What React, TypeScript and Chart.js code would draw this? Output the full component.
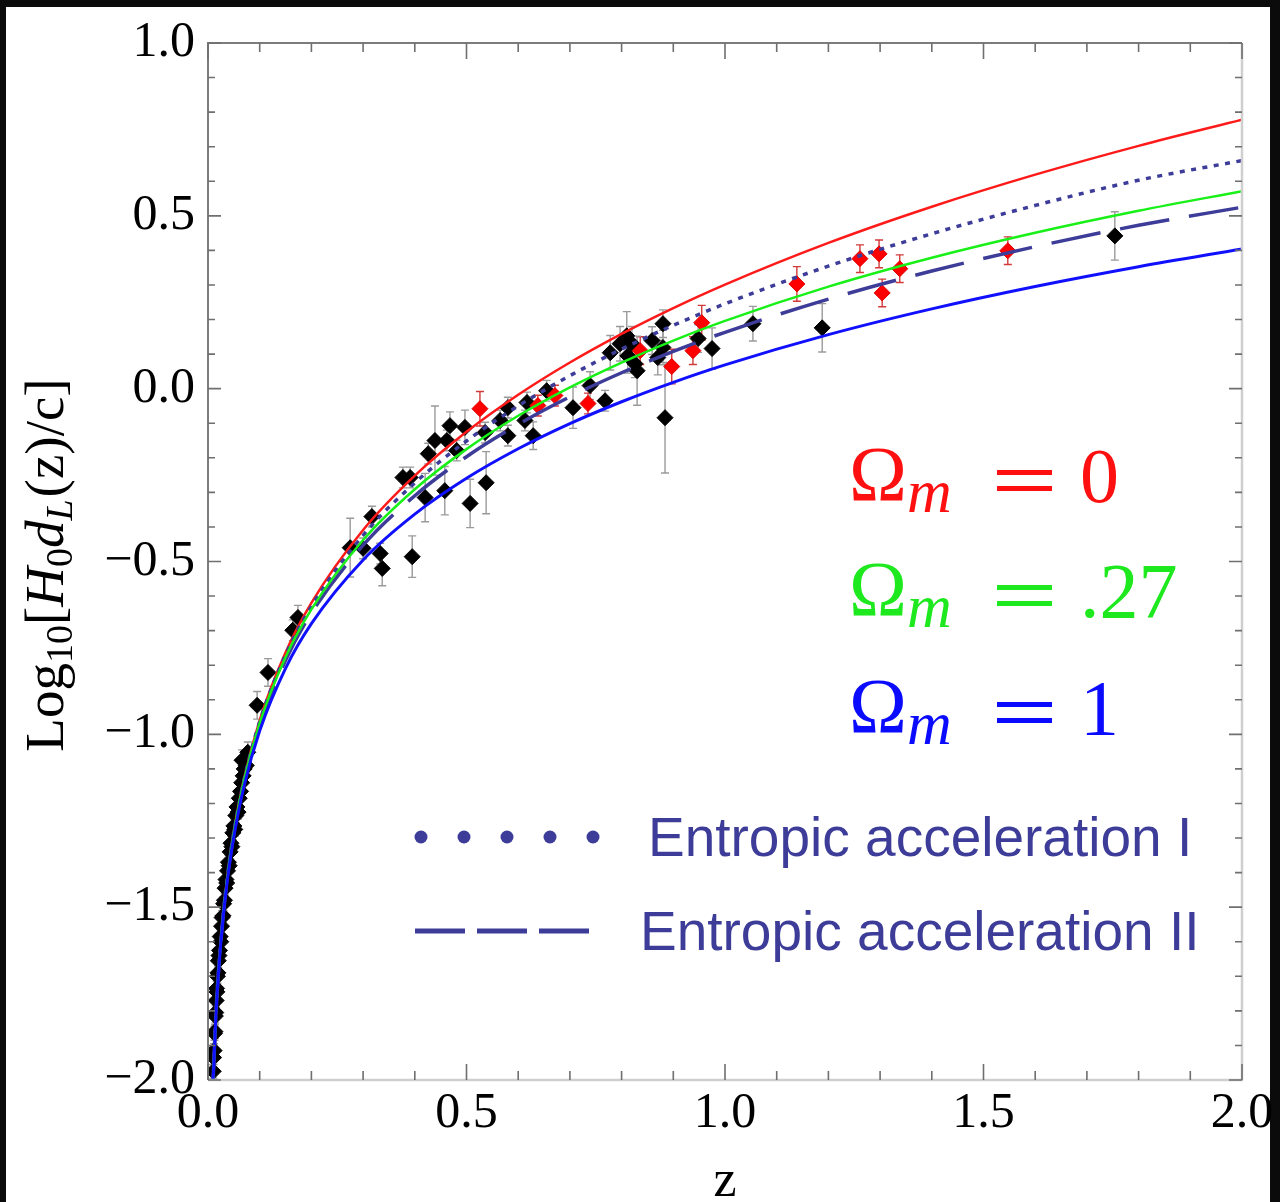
import React, { useEffect, useRef } from "react";
import { Chart, registerables } from "chart.js";
Chart.register(...registerables);

// ---------- axis ticks ----------
const X_TICK_VALUES = [0, 0.5, 1.0, 1.5, 2.0];
const X_TICK_LABELS = ["0.0", "0.5", "1.0", "1.5", "2.0"];
const Y_TICK_VALUES = [-2.0, -1.5, -1.0, -0.5, 0.0, 0.5, 1.0];
const Y_TICK_LABELS = ["\u22122.0", "\u22121.5", "\u22121.0", "\u22120.5", "0.0", "0.5", "1.0"];

// ---------- model curves ----------
const Z_GRID = [0.01, 0.015, 0.02, 0.03, 0.04, 0.05, 0.07, 0.1, 0.15, 0.2, 0.3, 0.4, 0.5, 0.6, 0.7, 0.8, 0.9, 1.0, 1.2, 1.4, 1.6, 1.8, 2.0];
const OMEGA_0 = [-1.9957, -1.8174, -1.6904, -1.5101, -1.3809, -1.2798, -1.1255, -0.9586, -0.7632, -0.6198, -0.4090, -0.2518, -0.1249, -0.0177, 0.0756, 0.1584, 0.2330, 0.3010, 0.4216, 0.5263, 0.6191, 0.7025, 0.7782];
const OMEGA_027 = [-1.9966, -1.8188, -1.6922, -1.5127, -1.3844, -1.2843, -1.1318, -0.9677, -0.7771, -0.6386, -0.4378, -0.2910, -0.1749, -0.0785, 0.0038, 0.0756, 0.1392, 0.1963, 0.2952, 0.3788, 0.4511, 0.5147, 0.5713];
const OMEGA_1 = [-1.9989, -1.8223, -1.6968, -1.5197, -1.3937, -1.2957, -1.1476, -0.9898, -0.8090, -0.6797, -0.4954, -0.3629, -0.2592, -0.1738, -0.1011, -0.0378, 0.0184, 0.0688, 0.1564, 0.2309, 0.2956, 0.3528, 0.4041];
const ENTROPIC_I = [-1.9962, -1.8181, -1.6913, -1.5115, -1.3827, -1.2822, -1.1289, -0.9634, -0.7706, -0.6298, -0.4242, -0.2726, -0.1514, -0.0499, 0.0375, 0.1145, 0.1833, 0.2455, 0.3546, 0.4482, 0.5301, 0.6030, 0.6600];
const ENTROPIC_II = [-1.9972, -1.8197, -1.6934, -1.5145, -1.3868, -1.2873, -1.1359, -0.9735, -0.7854, -0.6492, -0.4528, -0.3097, -0.1968, -0.1033, -0.0235, 0.0461, 0.1078, 0.1631, 0.2591, 0.3404, 0.4107, 0.4726, 0.5250];

// ---------- supernova data: black ----------
const BLACK_Z = [
  0.0102, 0.0108, 0.0118, 0.0126, 0.0134, 0.0142, 0.0150, 0.0158, 0.0166, 0.0172,
  0.0182, 0.0192, 0.0200, 0.0212, 0.0222, 0.0236, 0.0248, 0.0262, 0.0272, 0.0290,
  0.0302, 0.0318, 0.0330, 0.0348, 0.0362, 0.0378, 0.0395, 0.0410, 0.0428, 0.0445,
  0.0462, 0.0480, 0.0500, 0.0518, 0.0538, 0.0560, 0.0582, 0.0605, 0.0630, 0.0652,
  0.0680, 0.0700, 0.0740, 0.0658, 0.0770, 0.095, 0.116, 0.164, 0.174,
  0.275, 0.300, 0.317, 0.333, 0.337, 0.395, 0.377, 0.391, 0.420, 0.426,
  0.439, 0.458, 0.468, 0.462, 0.481, 0.497, 0.507, 0.538, 0.536, 0.565,
  0.580, 0.580, 0.617, 0.613, 0.629, 0.655, 0.706, 0.739, 0.768, 0.778,
  0.797, 0.810, 0.820, 0.812, 0.830, 0.826, 0.859, 0.880, 0.880, 0.870,
  0.884, 0.948, 0.975, 1.054, 1.188, 1.754,
];
const BLACK_LOG = [
  -1.975, -1.935, -1.915, -1.865, -1.860, -1.815, -1.805, -1.770, -1.735, -1.745,
  -1.700, -1.690, -1.655, -1.640, -1.625, -1.585, -1.600, -1.555, -1.530, -1.525,
  -1.490, -1.480, -1.445, -1.420, -1.430, -1.395, -1.370, -1.380, -1.340, -1.315,
  -1.325, -1.285, -1.265, -1.275, -1.235, -1.210, -1.225, -1.185, -1.165, -1.140,
  -1.120, -1.100, -1.090, -1.075, -1.052, -0.916, -0.821, -0.699, -0.662,
  -0.460, -0.462, -0.370, -0.477, -0.520, -0.486, -0.257, -0.257, -0.315, -0.188,
  -0.150, -0.295, -0.107, -0.150, -0.179, -0.112, -0.332, -0.272, -0.127, -0.092,
  -0.055, -0.136, -0.040, -0.092, -0.136, -0.006, -0.055, 0.009, -0.035, 0.104,
  0.130, 0.153, 0.130, 0.095, 0.052, 0.072, 0.139, 0.188, 0.119, 0.090,
  -0.084, 0.145, 0.116, 0.188, 0.176, 0.442,
];
const BLACK_ERR = [
  0.02, 0.02, 0.02, 0.02, 0.02, 0.02, 0.02, 0.02, 0.02, 0.02,
  0.02, 0.02, 0.02, 0.02, 0.02, 0.02, 0.02, 0.02, 0.02, 0.02,
  0.02, 0.02, 0.02, 0.02, 0.02, 0.02, 0.02, 0.02, 0.02, 0.02,
  0.02, 0.02, 0.02, 0.02, 0.02, 0.02, 0.02, 0.02, 0.02, 0.02,
  0.02, 0.02, 0.02, 0.03, 0.03, 0.04, 0.04, 0.03, 0.035,
  0.085, 0.03, 0.03, 0.03, 0.05, 0.06, 0.03, 0.03, 0.07, 0.03,
  0.10, 0.07, 0.04, 0.03, 0.03, 0.05, 0.07, 0.09, 0.03, 0.03,
  0.03, 0.03, 0.03, 0.03, 0.04, 0.03, 0.06, 0.04, 0.03, 0.05,
  0.05, 0.07, 0.05, 0.05, 0.10, 0.04, 0.04, 0.04, 0.05, 0.05,
  0.16, 0.04, 0.06, 0.05, 0.07, 0.07,
];

// ---------- supernova data: red ----------
const RED_Z = [0.526, 0.638, 0.671, 0.735, 0.836, 0.897, 0.955, 0.938, 1.139, 1.261, 1.298, 1.304, 1.338, 1.547];
const RED_LOG = [-0.058, -0.049, -0.020, -0.043, 0.110, 0.064, 0.191, 0.110, 0.303, 0.376, 0.390, 0.277, 0.347, 0.399];
const RED_ERR = [0.05, 0.03, 0.03, 0.03, 0.04, 0.05, 0.05, 0.04, 0.05, 0.04, 0.04, 0.04, 0.04, 0.04];

const SERIF = '"Liberation Serif", "Times New Roman", serif';
const SANS = '"Liberation Sans", Arial, sans-serif';
const ENTROPIC_COLOR = "#3d3d99";

const backgroundPlugin = {
  id: "bgFrame",
  beforeDraw(chart: any) {
    const { ctx, width, height } = chart;
    ctx.save();
    ctx.fillStyle = "#0b0b0b";
    ctx.fillRect(0, 0, width, height);
    ctx.fillStyle = "#ffffff";
    ctx.fillRect(6, 7, 1264, height - 7);
    ctx.restore();
  },
};

const errorBarPlugin = {
  id: "errorBars",
  beforeDatasetsDraw(chart: any) {
    const { ctx, chartArea: a } = chart;
    const ys = chart.scales.y;
    ctx.save();
    ctx.beginPath();
    ctx.rect(a.left, a.top, a.right - a.left, a.bottom - a.top);
    ctx.clip();
    chart.data.datasets.forEach((ds: any, i: number) => {
      if (!ds.errors) return;
      const meta = chart.getDatasetMeta(i);
      ctx.strokeStyle = ds.errorColor;
      ctx.lineWidth = 1.4;
      meta.data.forEach((pt: any, j: number) => {
        const v = ds.data[j].y;
        const e = ds.errors[j];
        const top = ys.getPixelForValue(v + e);
        const bot = ys.getPixelForValue(v - e);
        ctx.beginPath();
        ctx.moveTo(pt.x, top);
        ctx.lineTo(pt.x, bot);
        ctx.moveTo(pt.x - 4, top);
        ctx.lineTo(pt.x + 4, top);
        ctx.moveTo(pt.x - 4, bot);
        ctx.lineTo(pt.x + 4, bot);
        ctx.stroke();
      });
    });
    ctx.restore();
  },
};

function drawRuns(ctx: any, x: number, baseline: number, runs: any[]) {
  let cx = x;
  for (const r of runs) {
    ctx.font = r.font;
    ctx.fillText(r.text, cx + (r.dx || 0), baseline + (r.dy || 0));
    cx += ctx.measureText(r.text).width + (r.dx || 0) + (r.after || 0);
  }
}

const overlayPlugin = {
  id: "overlay",
  afterDatasetsDraw(chart: any) {
    const { ctx, chartArea: a } = chart;
    const xs = chart.scales.x;
    const ys = chart.scales.y;
    ctx.save();
    // frame
    ctx.lineWidth = 2.5;
    ctx.strokeStyle = "#cfcfcf";
    ctx.beginPath();
    ctx.moveTo(a.left, a.bottom);
    ctx.lineTo(a.right, a.bottom);
    ctx.lineTo(a.right, a.top);
    ctx.stroke();
    ctx.lineWidth = 2;
    ctx.strokeStyle = "#7c7c7c";
    ctx.beginPath();
    ctx.moveTo(a.left, a.bottom);
    ctx.lineTo(a.left, a.top);
    ctx.lineTo(a.right, a.top);
    ctx.stroke();

    // ticks
    ctx.lineWidth = 1.6;
    ctx.strokeStyle = "#6f6f6f";
    for (let i = 0; i <= 20; i++) {
      const v = i / 10;
      const major = i % 5 === 0;
      const px = xs.getPixelForValue(v);
      const len = major ? 16 : 9;
      ctx.beginPath();
      ctx.moveTo(px, a.bottom);
      ctx.lineTo(px, a.bottom - len);
      ctx.moveTo(px, a.top);
      ctx.lineTo(px, a.top + len);
      ctx.stroke();
    }
    for (let i = 0; i <= 30; i++) {
      const v = -2 + i / 10;
      const major = i % 5 === 0;
      const py = ys.getPixelForValue(v);
      const len = major ? 13 : 7;
      ctx.beginPath();
      ctx.moveTo(a.left, py);
      ctx.lineTo(a.left + len, py);
      ctx.moveTo(a.right, py);
      ctx.lineTo(a.right - len, py);
      ctx.stroke();
    }
    ctx.restore();
  },
  afterDraw(chart: any) {
    const { ctx, chartArea: a } = chart;
    ctx.save();
    ctx.textBaseline = "alphabetic";
    ctx.textAlign = "left";

    // y-axis title (rotated)
    const big = `55px ${SERIF}`;
    const sub = `38px ${SERIF}`;
    const runs = [
      { text: "Log", font: big },
      { text: "10", font: sub, dy: 9 },
      { text: "[", font: big },
      { text: "H", font: `italic ${big}` },
      { text: "0", font: sub, dy: 9 },
      { text: "d", font: `italic ${big}` },
      { text: "L", font: `italic ${sub}`, dy: 9, after: 2 },
      { text: "(z)/c]", font: big },
    ];
    let total = 0;
    for (const r of runs) {
      ctx.font = r.font;
      total += ctx.measureText(r.text).width + (r.after || 0);
    }
    ctx.save();
    ctx.translate(63, 565);
    ctx.rotate(-Math.PI / 2);
    ctx.fillStyle = "#000";
    drawRuns(ctx, -total / 2, 0, runs);
    ctx.restore();

    // x-axis title
    ctx.fillStyle = "#000";
    ctx.font = `52px ${SERIF}`;
    ctx.textAlign = "center";
    ctx.fillText("z", (a.left + a.right) / 2, 1196);
    ctx.textAlign = "left";

    // Omega labels
    const omegaRows = [
      { color: "#ff1010", val: "0", base: 500 },
      { color: "#1ee81e", val: ".27", base: 615 },
      { color: "#0a0aff", val: "1", base: 732 },
    ];
    for (const row of omegaRows) {
      ctx.fillStyle = row.color;
      ctx.font = `78px ${SERIF}`;
      ctx.fillText("\u03A9", 849, row.base);
      ctx.font = `italic 62px ${SERIF}`;
      ctx.fillText("m", 907, row.base + 12);
      ctx.fillRect(997, row.base - 30, 55, 5);
      ctx.fillRect(997, row.base - 14, 55, 5);
      ctx.font = `78px ${SERIF}`;
      ctx.fillText(row.val, 1080, row.base + 2);
    }

    // legend
    ctx.fillStyle = ENTROPIC_COLOR;
    for (let i = 0; i < 5; i++) {
      ctx.beginPath();
      ctx.arc(421 + i * 43, 837, 6.5, 0, Math.PI * 2);
      ctx.fill();
    }
    ctx.strokeStyle = ENTROPIC_COLOR;
    ctx.lineWidth = 5;
    for (let i = 0; i < 3; i++) {
      ctx.beginPath();
      ctx.moveTo(415 + i * 62, 931);
      ctx.lineTo(465 + i * 62, 931);
      ctx.stroke();
    }
    ctx.font = `55px ${SANS}`;
    ctx.fillText("Entropic acceleration I", 648, 856);
    ctx.fillText("Entropic acceleration II", 640, 950);
    ctx.restore();
  },
};

function curve(values: number[]) {
  return Z_GRID.map((z, i) => ({ x: z, y: values[i] }));
}
function points(zs: number[], ys: number[]) {
  return zs.map((z, i) => ({ x: z, y: ys[i] }));
}

export default function App() {
  const ref = useRef<HTMLCanvasElement | null>(null);
  useEffect(() => {
    document.documentElement.style.overflow = "hidden";
    document.body.style.overflow = "hidden";
    const canvas = ref.current;
    if (!canvas) return;
    const lineBase = {
      type: "line",
      showLine: true,
      pointRadius: 0,
      pointHoverRadius: 0,
      fill: false,
      cubicInterpolationMode: "monotone",
    };
    const chart = new Chart(canvas, {
      type: "scatter",
      data: {
        datasets: [
          { ...lineBase, label: "Omega_m = 1", data: curve(OMEGA_1), borderColor: "#1010ff", borderWidth: 3 },
          { ...lineBase, label: "Omega_m = .27", data: curve(OMEGA_027), borderColor: "#18f018", borderWidth: 2.5 },
          { ...lineBase, label: "Entropic acceleration II", data: curve(ENTROPIC_II), borderColor: ENTROPIC_COLOR, borderWidth: 3.5, borderDash: [50, 20] },
          { ...lineBase, label: "Entropic acceleration I", data: curve(ENTROPIC_I), borderColor: ENTROPIC_COLOR, borderWidth: 3.5, borderDash: [5, 6.5] },
          { ...lineBase, label: "Omega_m = 0", data: curve(OMEGA_0), borderColor: "#ff1a1a", borderWidth: 2.5 },
          {
            label: "SN red",
            data: points(RED_Z, RED_LOG),
            errors: RED_ERR,
            errorColor: "#d23a3a",
            pointStyle: "rectRot",
            pointRadius: 8,
            backgroundColor: "#ff0000",
            borderColor: "#e00000",
            borderWidth: 1,
          },
          {
            label: "SN black",
            data: points(BLACK_Z, BLACK_LOG),
            errors: BLACK_ERR,
            errorColor: "#9a9a9a",
            pointStyle: "rectRot",
            pointRadius: 8,
            backgroundColor: "#000000",
            borderColor: "#000000",
            borderWidth: 1,
          },
        ] as any,
      },
      options: {
        animation: false,
        responsive: false,
        devicePixelRatio: 1,
        layout: { padding: { left: 0, top: 42, right: 38, bottom: 0 } },
        plugins: { legend: { display: false }, tooltip: { enabled: false } },
        events: [],
        scales: {
          x: {
            type: "linear",
            min: 0,
            max: 2,
            afterBuildTicks: (s: any) => {
              s.ticks = X_TICK_VALUES.map((v) => ({ value: v }));
            },
            afterFit: (s: any) => {
              s.height = 122;
            },
            grid: { display: false, drawTicks: false },
            border: { display: false },
            ticks: {
              autoSkip: false,
              maxRotation: 0,
              padding: 4,
              color: "#000",
              font: { family: SERIF, size: 50 },
              callback: (v: any) => {
                const k = X_TICK_VALUES.findIndex((t) => Math.abs(t - Number(v)) < 1e-9);
                return k >= 0 ? X_TICK_LABELS[k] : "";
              },
            },
          },
          y: {
            type: "linear",
            min: -2,
            max: 1,
            afterBuildTicks: (s: any) => {
              s.ticks = Y_TICK_VALUES.map((v) => ({ value: v }));
            },
            afterFit: (s: any) => {
              s.width = 208;
            },
            grid: { display: false, drawTicks: false },
            border: { display: false },
            ticks: {
              autoSkip: false,
              padding: 13,
              color: "#000",
              font: { family: SERIF, size: 50 },
              callback: (v: any) => {
                const k = Y_TICK_VALUES.findIndex((t) => Math.abs(t - Number(v)) < 1e-9);
                return k >= 0 ? Y_TICK_LABELS[k] : "";
              },
            },
          },
        },
      } as any,
      plugins: [backgroundPlugin, errorBarPlugin, overlayPlugin],
    });
    return () => chart.destroy();
  }, []);

  return (
    <div style={{ position: "absolute", left: 0, top: 0, width: 1280, height: 1202, background: "#000" }}>
      <canvas ref={ref} width={1280} height={1202} style={{ display: "block", width: 1280, height: 1202 }} />
    </div>
  );
}
